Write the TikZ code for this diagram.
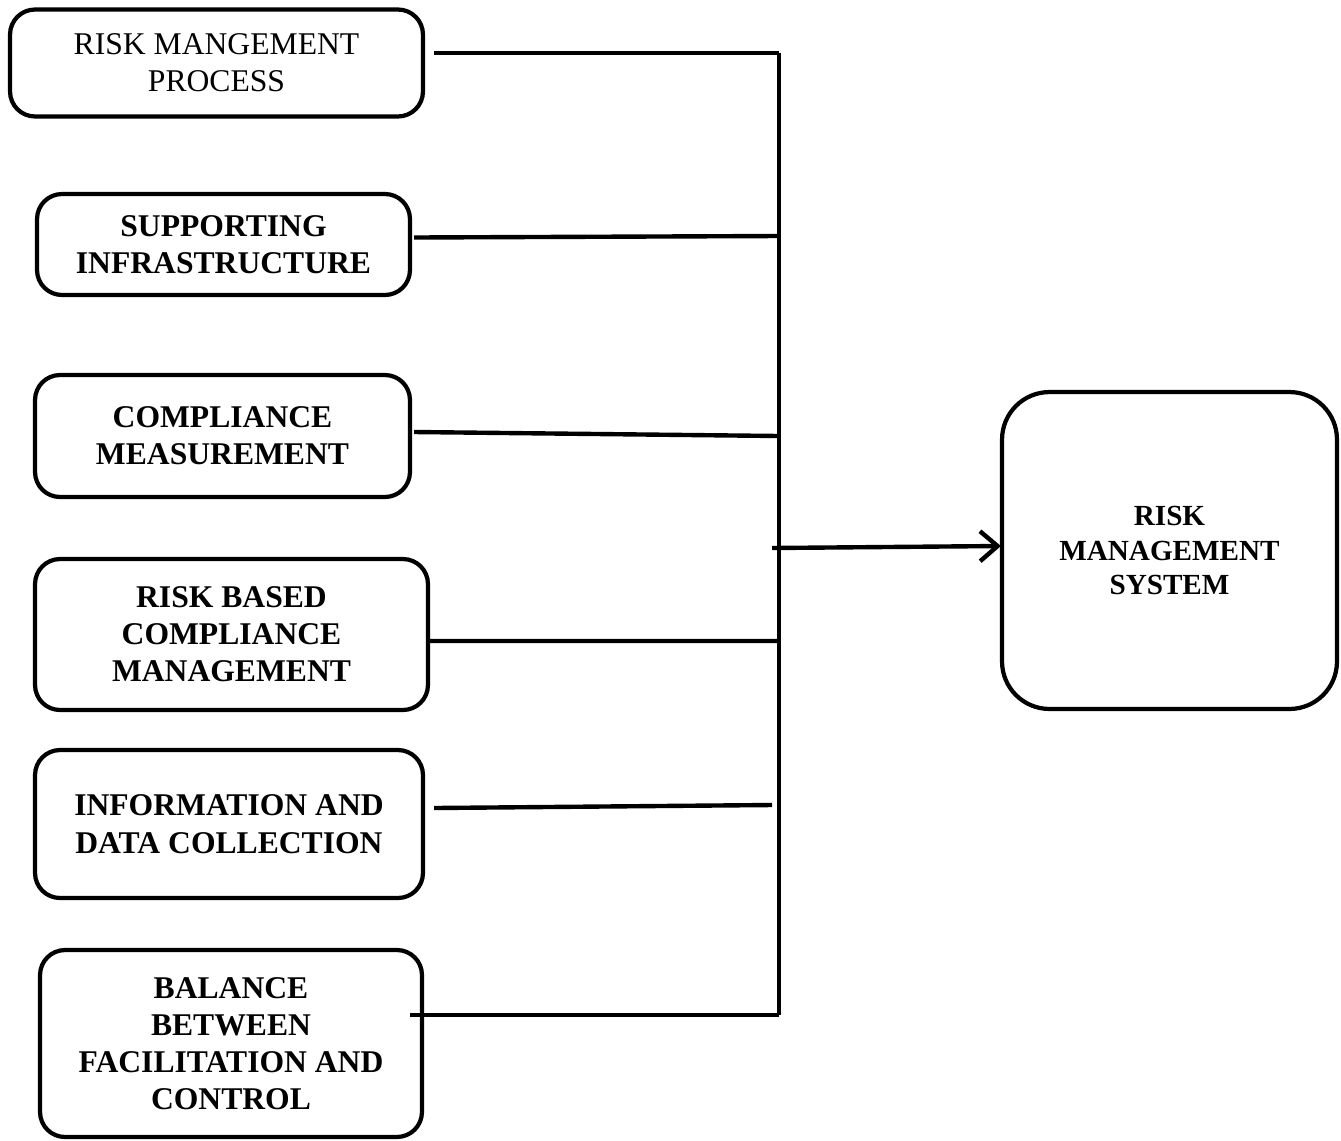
\documentclass[tikz,border=0pt]{standalone}
\usepackage{fontspec}
\setmainfont{Liberation Serif}
\usepackage{tikz}
\usetikzlibrary{arrows.meta}

\tikzset{
  box/.style={draw,line width=2.4pt,rounded corners=0.5cm,align=center,
    font=\fontsize{18}{21}\selectfont,inner sep=0pt},
  bigbox/.style={box,rounded corners=0.95cm},
  wire/.style={line width=2.5pt}
}

\begin{document}
\begin{tikzpicture}[x=0.02cm,y=-0.02cm]
  \useasboundingbox (0,0) rectangle (1341,1140);
  \node[box,minimum width=8.26cm,minimum height=2.14cm] (proc) at (216.5,63)
    {RISK MANGEMENT\\PROCESS};
  \node[box,minimum width=7.46cm,minimum height=2.02cm,font=\fontsize{18}{21}\selectfont\bfseries] (infra) at (223.5,244.5)
    {SUPPORTING\\INFRASTRUCTURE};
  \node[box,minimum width=7.5cm,minimum height=2.44cm,font=\fontsize{18}{21}\selectfont\bfseries] (comp) at (222.5,436)
    {COMPLIANCE\\MEASUREMENT};
  \node[box,minimum width=7.86cm,minimum height=3.02cm,font=\fontsize{18}{21}\selectfont\bfseries] (rbcm) at (231.5,634.5)
    {RISK BASED\\COMPLIANCE\\MANAGEMENT};
  \node[box,minimum width=7.76cm,minimum height=2.96cm,font=\fontsize{18}{22}\selectfont\bfseries] (info) at (229,824)
    {INFORMATION AND\\DATA COLLECTION};
  \node[box,minimum width=7.64cm,minimum height=3.74cm,font=\fontsize{18}{21}\selectfont\bfseries] (bal) at (231,1043.5)
    {BALANCE\\BETWEEN\\FACILITATION AND\\CONTROL};
  \node[bigbox,minimum width=6.7cm,minimum height=6.34cm,font=\fontsize{16.6}{19.5}\selectfont\bfseries] (sys) at (1169.5,550.5)
    {RISK\\MANAGEMENT\\SYSTEM};

  \coordinate (bustop) at (779,53);
  \coordinate (busbot) at (779,1015);
  \coordinate (busmid) at (772,548);
  \coordinate (infoend) at (772,805);

  \draw[wire] (bustop)--(busbot);
  \draw[wire] ([xshift=0.18cm]proc.east |- bustop)--(bustop);
  \draw[wire] ([xshift=0.04cm,yshift=0.14cm]infra.east)--(779,236);
  \draw[wire] ([xshift=0.04cm,yshift=0.08cm]comp.east)--(779,436);
  \draw[wire] ([yshift=-0.13cm]rbcm.east)--(779,641);
  \draw[wire] ([xshift=0.18cm,yshift=0.32cm]info.east)--(infoend);
  \draw[wire] (410,1015)--(busbot);
  \draw[wire,-{Straight Barb[length=3.5mm,width=6mm]}] (busmid)--([xshift=0.02cm,yshift=0.09cm]sys.west);
\end{tikzpicture}
\end{document}
